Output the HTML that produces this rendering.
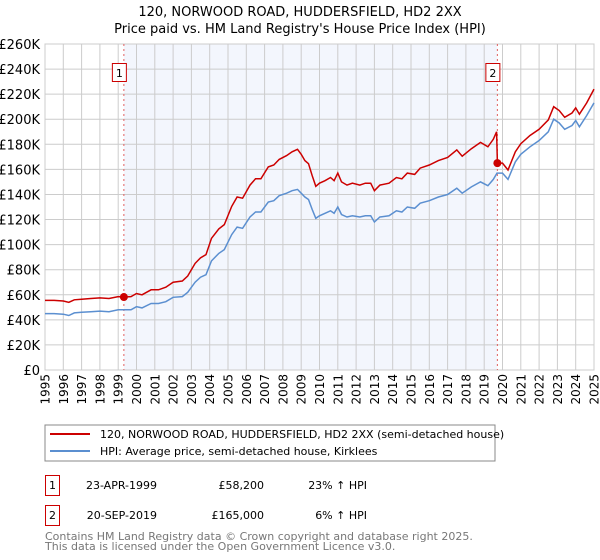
<!DOCTYPE html>
<html><head><meta charset="utf-8"><style>
body{margin:0;background:#fff;font-family:"DejaVu Sans","Liberation Sans",sans-serif;}
#wrap{position:relative;width:600px;height:560px;overflow:hidden}
svg text{font-family:"DejaVu Sans","Liberation Sans",sans-serif}
</style></head><body><div id="wrap">
<svg id="chart" width="600" height="560">
<text x="300" y="16" text-anchor="middle" font-size="13" fill="#000">120, NORWOOD ROAD, HUDDERSFIELD, HD2 2XX</text>
<text x="300" y="33" text-anchor="middle" font-size="13" fill="#000">Price paid vs. HM Land Registry's House Price Index (HPI)</text>
<g id="plot"></g>
<rect x="45" y="425" width="450" height="36" fill="#fff" stroke="#888"/>
<line x1="50" y1="434" x2="90" y2="434" stroke="#cc0000" stroke-width="2"/>
<text x="100" y="438" font-size="11">120, NORWOOD ROAD, HUDDERSFIELD, HD2 2XX (semi-detached house)</text>
<line x1="50" y1="451" x2="90" y2="451" stroke="#5b8fd0" stroke-width="2"/>
<text x="100" y="455" font-size="11">HPI: Average price, semi-detached house, Kirklees</text>
<rect x="45.5" y="475.5" width="14" height="20" fill="#fff" stroke="#cc0000"/>
<text x="52.5" y="489" font-size="11" text-anchor="middle">1</text>
<text x="157" y="489" font-size="11" text-anchor="end">23-APR-1999</text>
<text x="264" y="489" font-size="11" text-anchor="end">£58,200</text>
<text x="367" y="489" font-size="11" text-anchor="end">23% ↑ HPI</text>
<rect x="45.5" y="505.5" width="14" height="20" fill="#fff" stroke="#cc0000"/>
<text x="52.5" y="519" font-size="11" text-anchor="middle">2</text>
<text x="157" y="519" font-size="11" text-anchor="end">20-SEP-2019</text>
<text x="264" y="519" font-size="11" text-anchor="end">£165,000</text>
<text x="367" y="519" font-size="11" text-anchor="end">6% ↑ HPI</text>
<text x="45" y="540" font-size="11" fill="#777">Contains HM Land Registry data © Crown copyright and database right 2025.</text>
<text x="45" y="550" font-size="11" fill="#777">This data is licensed under the Open Government Licence v3.0.</text>
</svg>
<script>
const yTicks=[0,20,40,60,80,100,120,140,160,180,200,220,240,260];
const years=[1995,1996,1997,1998,1999,2000,2001,2002,2003,2004,2005,2006,2007,2008,2009,2010,2011,2012,2013,2014,2015,2016,2017,2018,2019,2020,2021,2022,2023,2024,2025];
const hpiDates=[1995.0,1995.5,1996.0,1996.3,1996.6,1997,1997.5,1998,1998.5,1999,1999.3,1999.7,2000,2000.3,2000.8,2001.2,2001.6,2002,2002.5,2002.8,2003.2,2003.5,2003.8,2004.1,2004.5,2004.8,2005.2,2005.5,2005.8,2006.2,2006.5,2006.8,2007.2,2007.5,2007.8,2008.2,2008.5,2008.8,2009.0,2009.2,2009.4,2009.6,2009.8,2010.0,2010.3,2010.6,2010.8,2011.0,2011.2,2011.5,2011.8,2012.2,2012.5,2012.8,2013.0,2013.3,2013.8,2014.2,2014.5,2014.8,2015.2,2015.5,2016.0,2016.5,2017.0,2017.5,2017.8,2018.3,2018.8,2019.2,2019.5,2019.7,2020.0,2020.3,2020.7,2021.0,2021.5,2022.0,2022.5,2022.8,2023.1,2023.4,2023.8,2024.0,2024.2,2024.6,2025.0];
const hpiValues=[45,45,44.5,43.5,45.5,46,46.5,47,46.5,48,48,48,50.5,49.5,53,53,54.5,58,58.5,62,70,74,76,87,93,96,108,114,113,122,126,126,134,135,139,141,143,144,141,138,136,128,121,123,125,127,125,130,124,122,123,122,123,123,118,122,123,127,126,130,129,133,135,138,140,145,141,146,150,147,152,157,157,152,166,172,178,183,190,200,197,192,195,199,194,203,213];
const priceDates=[1995.0,1995.5,1996.0,1996.3,1996.6,1997,1997.5,1998,1998.5,1999,1999.3,1999.7,2000,2000.3,2000.8,2001.2,2001.6,2002,2002.5,2002.8,2003.2,2003.5,2003.8,2004.1,2004.5,2004.8,2005.2,2005.5,2005.8,2006.2,2006.5,2006.8,2007.2,2007.5,2007.8,2008.2,2008.5,2008.8,2009.0,2009.2,2009.4,2009.6,2009.8,2010.0,2010.3,2010.6,2010.8,2011.0,2011.2,2011.5,2011.8,2012.2,2012.5,2012.8,2013.0,2013.3,2013.8,2014.2,2014.5,2014.8,2015.2,2015.5,2016.0,2016.5,2017.0,2017.5,2017.8,2018.3,2018.8,2019.2,2019.5,2019.68,2019.72,2020.0,2020.3,2020.7,2021.0,2021.5,2022.0,2022.5,2022.8,2023.1,2023.4,2023.8,2024.0,2024.2,2024.6,2025.0];
const priceValues=[55.5,55.5,55,54,56,56.5,57,57.5,57,58.5,58.2,58.5,61,60,64,64,66,70,71,75,85,89.5,92,105,112.5,116,130.5,138,137,147.5,152.5,152.5,162,163.5,168,171,174,176,172,167,164.5,155,146.5,149,151,153.5,151,157,150,147.5,149,147.5,149,149,143,147.5,149,153.5,152.5,157,156,161,163.5,167,169.5,175.5,170.5,176.5,181.5,178,184,190,165,165,159.5,174,180.5,187,192,199.5,210,207,201.5,205,209,204,213,224];
const saleDates=[1999.31,2019.72];
const saleValues=[58.2,165];
const saleLabels=["1","2"];

const NS="http://www.w3.org/2000/svg";
const X0=45,X1=594,Y0=370,Y1=44;
const xs=d=>X0+(d-1995)/(2025-1995)*(X1-X0);
const ys=v=>Y0-v/260*(Y0-Y1);
const g=document.getElementById('plot');
function mk(t,a){const e=document.createElementNS(NS,t);for(const k in a)e.setAttribute(k,a[k]);g.appendChild(e);return e;}
let e=mk('rect',{x:xs(saleDates[0]),y:Y1,width:xs(saleDates[1])-xs(saleDates[0]),height:Y0-Y1,fill:'#f3f6fd'});


yTicks.forEach(v=>{
 const l=mk('line',{x1:X0,x2:X1,y1:ys(v),y2:ys(v),stroke:'#cccccc'});
 
 
 const t=mk('text',{x:40,y:ys(v)+5,'text-anchor':'end','font-size':13});
 
 
 t.textContent=v===0?'£0':'£'+v+'K';
});
years.forEach(y=>{
 const l=mk('line',{y1:Y1,y2:Y0,x1:xs(y),x2:xs(y),stroke:'#cccccc'});
 
 
 const tx=xs(y)+4.5,ty=374;
 const t=mk('text',{x:tx,y:ty,'text-anchor':'end','font-size':12,transform:'rotate(-90 '+tx+' '+ty+')'});
 
 
 t.textContent=y;
});
e=mk('rect',{x:X0,y:Y1,width:X1-X0,height:Y0-Y1,fill:'none',stroke:'#cccccc'});


saleDates.forEach((d,i)=>{
 const l=mk('line',{x1:xs(d),x2:xs(d),y1:Y1,y2:Y0,stroke:'#e06060','stroke-dasharray':'2,3'});
 
 
});
function path(ds,vs,col,name){
 const p=mk('path',{d:ds.map((d,i)=>(i?'L':'M')+xs(d).toFixed(1)+','+ys(vs[i]).toFixed(1)).join(''),fill:'none',stroke:col,'stroke-width':1.5});
 
 
}
path(hpiDates,hpiValues,'#5b8fd0','hpi-line');
path(priceDates,priceValues,'#cc0000','property-price-line');
saleDates.forEach((d,i)=>{
 const c=mk('circle',{cx:xs(d),cy:ys(saleValues[i]),r:4,fill:'#cc0000'});
 
 
 const r=mk('rect',{x:xs(d)-11.5,y:63.5,width:14,height:18,fill:'#fff',stroke:'#cc0000'});
 
 
 const t=mk('text',{x:xs(d)-4.5,y:77,'text-anchor':'middle','font-size':11});
 
 
 t.textContent=saleLabels[i];
});
</script>
</div></body></html>
